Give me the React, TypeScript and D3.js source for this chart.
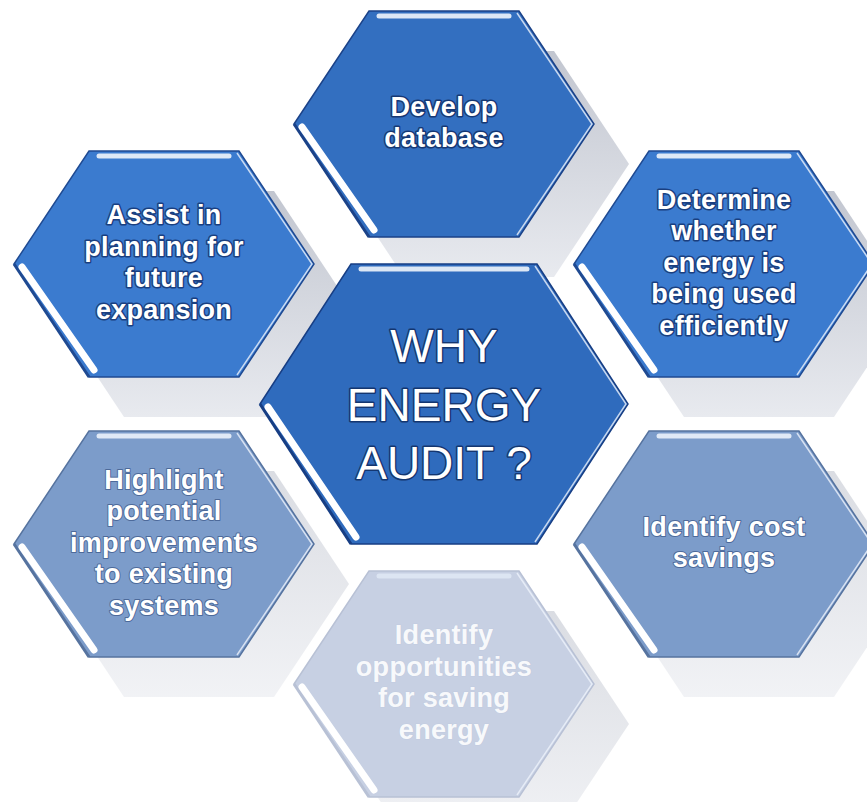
import React, { useEffect, useRef } from 'react';
import * as d3 from 'd3';

// centre label and the six reasons around it (clockwise from the top)
const centerTitle = ['WHY', 'ENERGY', 'AUDIT ?'];
const reasons = [
  ['Develop', 'database'],
  ['Determine', 'whether', 'energy is', 'being used', 'efficiently'],
  ['Identify cost', 'savings'],
  ['Identify', 'opportunities', 'for saving', 'energy'],
  ['Highlight', 'potential', 'improvements', 'to existing', 'systems'],
  ['Assist in', 'planning for', 'future', 'expansion'],
];
// hex-grid slot of each reason (column, row)
const gridCol = [0, 1, 1, 0, -1, -1];
const gridRow = [-2, -1, 1, 2, 1, -1];

const W = 867;
const H = 802;

const hexPoints = (cx: number, cy: number, w: number, h: number, a: number): [number, number][] => [
  [cx - w, cy],
  [cx - a, cy - h],
  [cx + a, cy - h],
  [cx + w, cy],
  [cx + a, cy + h],
  [cx - a, cy + h],
];

const App = () => {
  const ref = useRef<SVGSVGElement>(null);

  useEffect(() => {
    const svg = d3.select(ref.current);
    svg.selectAll('*').remove();

    const x = d3.scaleLinear().domain([-1, 1]).range([164, 724]);
    const y = d3.scaleLinear().domain([-2, 2]).range([124, 684]);
    const fill = d3
      .scaleLinear<string>()
      .domain([-2, -1, 0, 1, 2])
      .range(['#336fc0', '#3b7bcf', '#2f6bbd', '#7c9cca', '#c7d0e3']);
    const outline = d3
      .scaleLinear<string>()
      .domain([-2, -1, 0, 1, 2])
      .range(['#1b4288', '#1f4a92', '#173e84', '#56739f', '#b8c1d5']);
    const textStroke = d3
      .scaleLinear<string>()
      .domain([-2, -1, 0, 1, 2])
      .range(['#163874', '#1a3f80', '#143670', '#4d6a9a', '#c2cce0']);

    const line = d3.line();

    const defs = svg.append('defs');
    const sg = defs
      .append('linearGradient')
      .attr('id', 'shade')
      .attr('x1', 0)
      .attr('y1', 0)
      .attr('x2', 0)
      .attr('y2', 1);
    sg.append('stop').attr('offset', '0%').attr('stop-color', '#c2c6d0');
    sg.append('stop').attr('offset', '100%').attr('stop-color', '#e8eaef');

    const nodes = reasons.map((lines, i) => ({
      lines,
      cx: x(gridCol[i]),
      cy: y(gridRow[i]),
      row: gridRow[i],
      big: false,
    }));
    nodes.push({ lines: centerTitle, cx: x(0), cy: y(0), row: 0, big: true });

    const size = (big: boolean) => (big ? { w: 184, h: 140, a: 93 } : { w: 150, h: 113, a: 75 });

    // grey "depth" shadows behind the outer hexagons
    svg
      .append('g')
      .selectAll('path')
      .data(nodes.filter((d) => !d.big))
      .join('path')
      .attr('d', (d) => {
        const s = size(d.big);
        return line(hexPoints(d.cx + 35, d.cy + 40, s.w, s.h, s.a)) + 'Z';
      })
      .attr('fill', 'url(#shade)')
      .attr('opacity', (d) => (d.row >= 1 ? 0.6 : 1));

    const g = svg
      .append('g')
      .selectAll('g')
      .data(nodes)
      .join('g');

    g.append('path')
      .attr('d', (d) => {
        const s = size(d.big);
        return line(hexPoints(d.cx, d.cy, s.w, s.h, s.a)) + 'Z';
      })
      .attr('fill', (d) => fill(d.row))
      .attr('stroke', (d) => outline(d.row))
      .attr('stroke-width', 1.5);

    // top bevel
    g.append('path')
      .attr('d', (d) => {
        const s = size(d.big);
        return line([
          [d.cx - s.a + 10, d.cy - s.h + 5],
          [d.cx + s.a - 10, d.cy - s.h + 5],
        ]);
      })
      .attr('stroke', '#e6eef9')
      .attr('stroke-width', 5)
      .attr('stroke-linecap', 'round')
      .attr('opacity', (d) => (d.row >= 2 ? 0.7 : 0.95));

    // lower-left bevel: dark edge then white stripe
    g.append('path')
      .attr('d', (d) => {
        const s = size(d.big);
        return line([
          [d.cx - s.w, d.cy],
          [d.cx - s.a, d.cy + s.h],
        ]);
      })
      .attr('stroke', (d) => outline(d.row))
      .attr('stroke-width', 3);
    g.append('path')
      .attr('d', (d) => {
        const s = size(d.big);
        return line([
          [d.cx - s.w + 8, d.cy + 3],
          [d.cx - s.a + 5, d.cy + s.h - 7],
        ]);
      })
      .attr('stroke', '#ffffff')
      .attr('stroke-width', 7)
      .attr('stroke-linecap', 'round');

    // thin highlight on the right edges
    g.append('path')
      .attr('d', (d) => {
        const s = size(d.big);
        return line([
          [d.cx + s.a - 2, d.cy - s.h + 2],
          [d.cx + s.w - 2, d.cy],
          [d.cx + s.a - 2, d.cy + s.h - 2],
        ]);
      })
      .attr('fill', 'none')
      .attr('stroke', '#eef3fb')
      .attr('stroke-width', 1.5)
      .attr('opacity', 0.8);

    // labels
    g.append('text')
      .attr('text-anchor', 'middle')
      .attr('font-family', "'Liberation Sans', Arimo, Arial, sans-serif")
      .attr('font-weight', (d) => (d.big ? 400 : 700))
      .attr('font-size', (d) => (d.big ? 46 : 27))
      .attr('letter-spacing', (d) => (d.big ? 0 : 0.3))
      .attr('fill', '#ffffff')
      .attr('fill-opacity', (d) => (d.row >= 2 ? 0.9 : 1))
      .attr('stroke', (d) => textStroke(d.row))
      .attr('stroke-width', (d) => (d.row >= 2 ? 1 : d.row === 1 ? 2 : 3))
      .attr('stroke-linejoin', 'round')
      .attr('paint-order', 'stroke')
      .each(function (d) {
        const lh = d.big ? 58.5 : 31.5;
        const off = d.big ? 16.5 : 7.5;
        const y0 = d.cy - ((d.lines.length - 1) / 2) * lh + off;
        d3.select(this)
          .selectAll('tspan')
          .data(d.lines)
          .join('tspan')
          .attr('x', d.cx)
          .attr('y', (_, i) => y0 + i * lh)
          .text((t) => t);
      });
  }, []);

  return (
    <svg
      ref={ref}
      width={W}
      height={H}
      style={{ position: 'absolute', left: 0, top: 0, background: '#ffffff' }}
    />
  );
};

export default App;
